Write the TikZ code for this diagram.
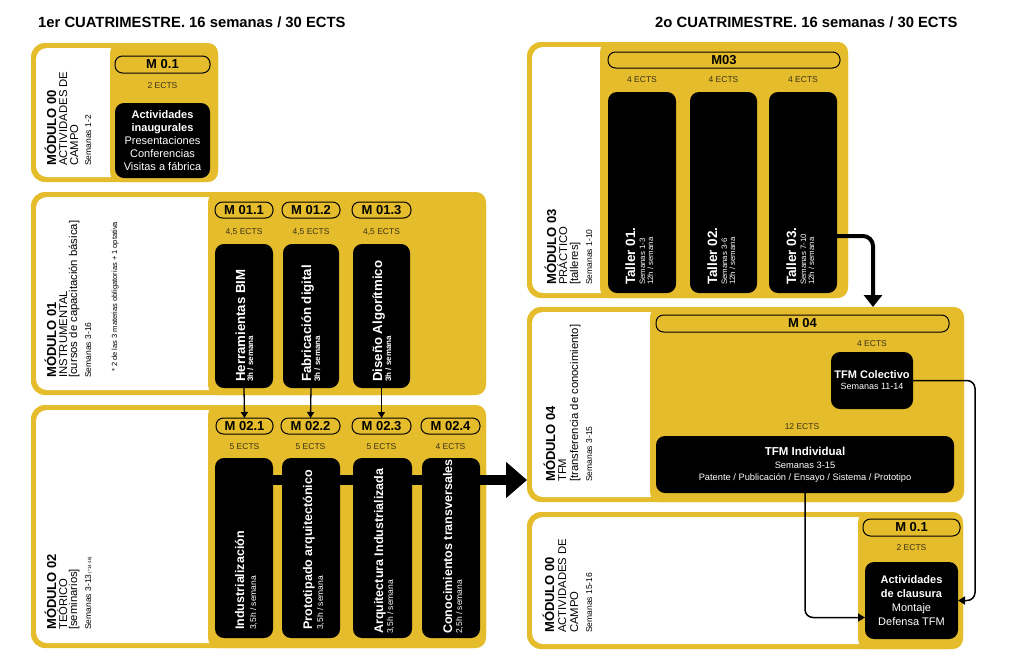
\documentclass[tikz,border=0pt]{standalone}
\usepackage{fontspec}
\setmainfont{Liberation Sans}
\usetikzlibrary{arrows.meta}
\definecolor{myyellow}{HTML}{E5BD2C}
\definecolor{ectscol}{HTML}{3A3218}
\newcommand{\fs}[2]{\fontsize{#1}{#2}\selectfont}
% box node from corners: name, style, x1, y1, x2, y2, text
\newcommand{\bx}[7]{\node[#2, minimum width={((#5)-(#3))*1pt}, minimum height={((#6)-(#4))*1pt}] (#1) at ({((#3)+(#5))/2},{((#4)+(#6))/2}) {#7};}
% module: name, x1, y1, x2, y2, x of yellow panel
\newcommand{\modul}[6]{%
  \bx{#1}{modbox}{#2}{#3}{#4}{#5}{}
  \fill[white, rounded corners=11pt] ({#2+5},{#3+5}) rectangle ({#6+12},{#5-5});
  \fill[myyellow, rounded corners=10pt] (#6,#3) rectangle (#4,#5);
}
\begin{document}
\begin{tikzpicture}[x=1pt,y=-1pt,
  modbox/.style={fill=myyellow, rounded corners=14pt, inner sep=0pt, outer sep=0pt},
  pill/.style={draw=black, line width=1pt, rounded corners=7.5pt, inner sep=0pt, outer sep=0pt, font=\fs{13}{14}\bfseries},
  blackbox/.style={fill=black, rounded corners=9pt, inner sep=0pt, outer sep=0pt, text=white},
  ects/.style={font=\fs{8.5}{9}, text=ectscol, inner sep=0pt},
  head/.style={anchor=base west, inner sep=0pt, font=\fs{14.8}{16}\bfseries},
  vt/.style={rotate=90, anchor=base west, inner sep=0pt},
  vtw/.style={vt, text=white},
  lbold/.style={vt, font=\fs{13}{13}\bfseries},
  lreg/.style={vt, font=\fs{11.3}{12}},
  lsmall/.style={vt, font=\fs{8.5}{9}},
  conn/.style={line width=1.5pt, rounded corners=8pt, -{Triangle[length=7pt,width=8pt]}},
  down/.style={line width=1.3pt, -{Triangle[length=6pt,width=7pt]}},
]
\useasboundingbox (0,0) rectangle (1024,665);

% headings
\node[head] (h1) at (38,27) {1er CUATRIMESTRE. 16 semanas / 30 ECTS};
\node[head] (h2) at (655,27) {2o CUATRIMESTRE. 16 semanas / 30 ECTS};

% ---------------- MODULO 00 (top left)
\modul{m00a}{31}{43}{218}{182}{110}
\bx{p00a}{pill}{115}{56}{210}{73}{M 0.1}
\node[ects] (e00a) at (162.5,86) {2 ECTS};
\bx{b00a}{blackbox, align=center, font=\fs{11}{13}}{115}{103}{210}{178}{\textbf{Actividades}\\\textbf{inaugurales}\\Presentaciones\\Conferencias\\Visitas a fábrica}
\node[lbold] (l00a1) at (56,166) {MÓDULO 00};
\node[lreg] (l00a2) at (67,166) {ACTIVIDADES DE};
\node[lreg] (l00a3) at (78,166) {CAMPO};
\node[lsmall] (l00a4) at (91,166) {Semanas 1-2};

% ---------------- MODULO 01
\modul{m01}{31}{192}{486}{395}{208}
\node[lbold] (l011) at (56,378) {MÓDULO 01};
\node[lreg] (l012) at (67,378) {INSTRUMENTAL};
\node[lreg] (l013) at (77,378) {[cursos de capacitación básica]};
\node[lsmall] (l014) at (91,378) {Semanas 3-16};
\node[vt, font=\fs{7.5}{8}] (l015) at (117,372) {* 2 de las 3 materias obligatorias + 1 optativa};
\bx{p11}{pill}{215}{202}{273}{218}{M 01.1}
\bx{p12}{pill}{282}{202}{340}{218}{M 01.2}
\bx{p13}{pill}{352}{202}{411}{218}{M 01.3}
\node[ects] (e11) at (244,232) {4,5 ECTS};
\node[ects] (e12) at (311,232) {4,5 ECTS};
\node[ects] (e13) at (381.5,232) {4,5 ECTS};
\bx{b11}{blackbox}{215}{244}{273}{388}{}
\bx{b12}{blackbox}{283}{244}{339}{388}{}
\bx{b13}{blackbox}{353}{244}{410}{388}{}
\node[vtw, font=\fs{13.2}{14}\bfseries] (t11) at (245,382) {Herramientas BIM};
\node[vtw, font=\fs{8}{9}\bfseries] (s11) at (253,382) {3h / semana};
\node[vtw, font=\fs{13.2}{14}\bfseries] (t12) at (311,382) {Fabricación digital};
\node[vtw, font=\fs{8}{9}\bfseries] (s12) at (320,382) {3h / semana};
\node[vtw, font=\fs{13.2}{14}\bfseries] (t13) at (382,382) {Diseño Algorítmico};
\node[vtw, font=\fs{8}{9}\bfseries] (s13) at (391,382) {3h / semana};

% ---------------- MODULO 02
\modul{m02}{31}{405}{486}{648}{208}
\node[lbold] (l021) at (56,630) {MÓDULO 02};
\node[lreg] (l022) at (67,630) {TEÓRICO};
\node[lreg] (l023) at (77,630) {[seminarios]};
\node[lsmall] (l024) at (91,630) {Semanas 3-13\,{\fs{4.5}{5}(*14-16)}};
\bx{p21}{pill}{216}{418}{273}{434}{M 02.1}
\bx{p22}{pill}{281}{418}{340}{434}{M 02.2}
\bx{p23}{pill}{352}{418}{411}{434}{M 02.3}
\bx{p24}{pill}{421}{418}{480}{434}{M 02.4}
\node[ects] (e21) at (244.5,447) {5 ECTS};
\node[ects] (e22) at (310.5,447) {5 ECTS};
\node[ects] (e23) at (381.5,447) {5 ECTS};
\node[ects] (e24) at (450.5,447) {4 ECTS};
\bx{b21}{blackbox}{215}{458}{273}{638}{}
\bx{b22}{blackbox}{282}{458}{340}{638}{}
\bx{b23}{blackbox}{353}{458}{412}{638}{}
\bx{b24}{blackbox}{422}{458}{480}{638}{}

% ---------------- MODULO 03
\modul{m03}{527}{42}{848}{298}{600}
\node[lbold] (l031) at (556,285) {MÓDULO 03};
\node[lreg] (l032) at (567,285) {PRÁCTICO};
\node[lreg] (l033) at (578,285) {[talleres]};
\node[lsmall] (l034) at (592,285) {Semanas 1-10};
\bx{p03}{pill}{608}{52}{840}{68}{M03}
\node[ects] (e31) at (642,80) {4 ECTS};
\node[ects] (e32) at (723.5,80) {4 ECTS};
\node[ects] (e33) at (803,80) {4 ECTS};
\bx{tb1}{blackbox}{608}{92}{676}{293}{}
\bx{tb2}{blackbox}{690}{92}{757}{293}{}
\bx{tb3}{blackbox}{769}{92}{837}{293}{}
\node[vtw, font=\fs{13.5}{14}\bfseries] (tt1) at (635,285) {Taller 01.};
\node[vtw, font=\fs{7.8}{8}] (ta1) at (645,285) {Semanas 1-3};
\node[vtw, font=\fs{7.8}{8}] (tc1) at (653,285) {12h / semana};
\node[vtw, font=\fs{13.5}{14}\bfseries] (tt2) at (717,285) {Taller 02.};
\node[vtw, font=\fs{7.8}{8}] (ta2) at (727,285) {Semanas 3-6};
\node[vtw, font=\fs{7.8}{8}] (tc2) at (735,285) {12h / semana};
\node[vtw, font=\fs{13.5}{14}\bfseries] (tt3) at (796,285) {Taller 03.};
\node[vtw, font=\fs{7.8}{8}] (ta3) at (806,285) {Semanas 7-10};
\node[vtw, font=\fs{7.8}{8}] (tc3) at (814,285) {12h / semana};

% ---------------- MODULO 04
\modul{m04}{527}{307}{964}{502}{650}
\node[lbold] (l041) at (555,482) {MÓDULO 04};
\node[lreg] (l042) at (566,482) {TFM};
\node[lreg] (l043) at (578,482) {[transferencia de conocimiento]};
\node[lsmall] (l044) at (592,482) {Semanas 3-15};
\bx{p04}{pill}{656}{315}{949}{332}{M 04}
\node[ects] (e41) at (872,344) {4 ECTS};
\node[ects] (e42) at (802,427) {12 ECTS};
\bx{col}{blackbox, align=center}{831}{352}{913}{409}{{\fs{11}{13}\bfseries TFM Colectivo}\\[-1pt]{\fs{9}{11}Semanas 11-14}}
\bx{ind}{blackbox, align=center}{656}{436}{954}{493}{{\fs{11.5}{13}\bfseries TFM Individual}\\[1pt]{\fs{9.3}{12}Semanas 3-15}\\{\fs{9.3}{12}Patente / Publicación / Ensayo / Sistema / Prototipo}}

% ---------------- MODULO 00 (bottom right)
\modul{m00b}{527}{512}{963}{649}{858}
\node[lbold] (l00b1) at (554,633) {MÓDULO 00};
\node[lreg] (l00b2) at (566,633) {ACTIVIDADES DE};
\node[lreg] (l00b3) at (578,633) {CAMPO};
\node[lsmall] (l00b4) at (592,633) {Semanas 15-16};
\bx{p00b}{pill}{863}{519}{960}{536}{M 0.1}
\node[ects] (e00b) at (911.5,548) {2 ECTS};
\bx{clau}{blackbox, align=center, font=\fs{11}{14}}{865}{562}{958}{639}{\textbf{Actividades}\\\textbf{de clausura}\\Montaje\\Defensa TFM}

% ---------------- connectors
\draw[down] (b11.south) -- (p21.north);
\draw[down] (b12.south) -- (p22.north);
\draw[down] (b13.south -| p23.north) -- (p23.north);
\draw[line width=10pt, -{Triangle[length=21pt,width=35pt]}] (b21.center |- 0,480) -- (m04.west |- 0,480);
\draw[line width=4pt, rounded corners=10pt, -{Triangle[length=12pt,width=18pt]}] ([yshift=-43.5pt]tb3.east) -| ([xshift=127.5pt]m04.north);
\draw[conn] (col.east) -| ([xshift=17pt]clau.east) -- (clau.east);
\draw[conn] (ind.south) |- ([yshift=-17pt]clau.west);

% texts of M02 boxes (over the bar)
\node[vtw, font=\fs{12.5}{14}\bfseries] (t21) at (244,630) {Industrialización};
\node[vtw, font=\fs{8.5}{9}] (s21) at (256,630) {3,5h / semana};
\node[vtw, font=\fs{12.5}{14}\bfseries] (t22) at (312,630) {Prototipado arquitectónico};
\node[vtw, font=\fs{8.5}{9}] (s22) at (323,630) {3,5h / semana};
\node[vtw, font=\fs{12.5}{14}\bfseries] (t23) at (383,634) {Arquitectura Industrializada};
\node[vtw, font=\fs{8.5}{9}] (s23) at (393,634) {3,5h / semana};
\node[vtw, font=\fs{12.5}{14}\bfseries] (t24) at (452,634) {Conocimientos transversales};
\node[vtw, font=\fs{8.5}{9}] (s24) at (462,634) {2,5h / semana};
\end{tikzpicture}
\end{document}
